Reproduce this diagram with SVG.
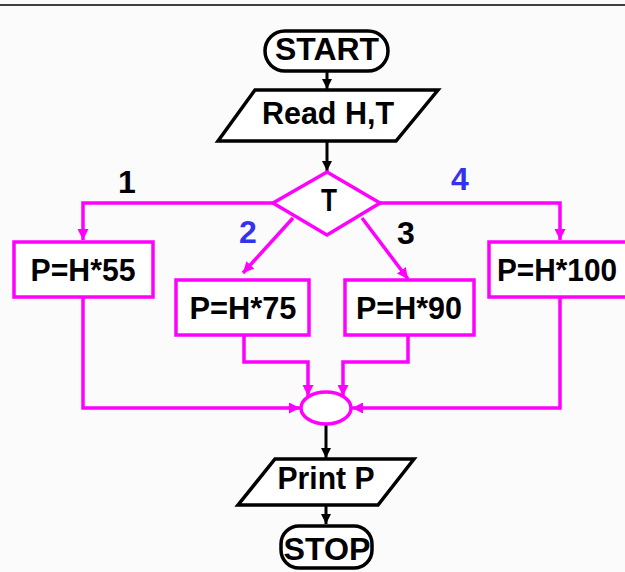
<svg xmlns="http://www.w3.org/2000/svg" width="625" height="572" viewBox="0 0 625 572">
<defs>
<style>
.t{font-family:"Liberation Sans",Arial,sans-serif;font-weight:bold;font-size:32px;text-anchor:middle;fill:#000}
.blk{fill:#fff;stroke:#000;stroke-width:3.5}
.mag{fill:#fff;stroke:#ff00ff;stroke-width:3.5}
.lk{fill:none;stroke:#000;stroke-width:3}
.lm{fill:none;stroke:#ff00ff;stroke-width:3.5}
.blue{fill:#3333ee}
</style>
<marker id="ak" viewBox="0 0 10 10" refX="10" refY="5" markerWidth="10" markerHeight="10" markerUnits="userSpaceOnUse" orient="auto"><path d="M0,0 L10,5 L0,10 Z" fill="#000"/></marker>
<marker id="am" viewBox="0 0 10 10" refX="10" refY="5" markerWidth="11" markerHeight="11" markerUnits="userSpaceOnUse" orient="auto"><path d="M0,0 L10,5 L0,10 Z" fill="#ff00ff"/></marker>
</defs>
<rect x="0" y="0" width="625" height="572" fill="#fbfbfb"/>
<line x1="0" y1="5" x2="625" y2="5" stroke="#000" stroke-width="1.5"/>
<g id="connectors">
<path class="lk" d="M327,72 V89" marker-end="url(#ak)"/>
<path class="lk" d="M327,141 V171" marker-end="url(#ak)"/>
<path class="lm" d="M273,203 H83 V240" marker-end="url(#am)"/>
<path class="lm" d="M380,203 H560 V240" marker-end="url(#am)"/>
<path class="lm" d="M293,218 L243,273" marker-end="url(#am)"/>
<path class="lm" d="M362,218 L408,279" marker-end="url(#am)"/>
<path class="lm" d="M244,335 V362 H308 V396" marker-end="url(#am)"/>
<path class="lm" d="M408,335 V362 H343 V396" marker-end="url(#am)"/>
<path class="lm" d="M83,298 V408 H300" marker-end="url(#am)"/>
<path class="lm" d="M560,298 V408 H352" marker-end="url(#am)"/>
<path class="lk" d="M326,424 V458" marker-end="url(#ak)"/>
<path class="lk" d="M326,505 V524" marker-end="url(#ak)"/>
</g>
<g id="start"><rect class="blk" x="265" y="31" width="123" height="40" rx="20"/><text class="t" x="327" y="60" textLength="104" lengthAdjust="spacingAndGlyphs">START</text></g>
<g id="read"><polygon class="blk" points="255,90 438,90 396,141 218,141"/><text class="t" x="328" y="124" textLength="132" lengthAdjust="spacingAndGlyphs">Read H,T</text></g>
<g id="decision"><polygon class="mag" points="327,172 380,203 327,235 273,203"/><text class="t" x="329" y="211" textLength="16" lengthAdjust="spacingAndGlyphs">T</text></g>
<g id="p55"><rect class="mag" x="14" y="242" width="139" height="55"/><text class="t" x="83" y="281" textLength="105" lengthAdjust="spacingAndGlyphs">P=H*55</text></g>
<g id="p75"><rect class="mag" x="176" y="280" width="133" height="55"/><text class="t" x="243" y="319" textLength="107" lengthAdjust="spacingAndGlyphs">P=H*75</text></g>
<g id="p90"><rect class="mag" x="345" y="280" width="129" height="55"/><text class="t" x="409" y="319" textLength="106" lengthAdjust="spacingAndGlyphs">P=H*90</text></g>
<g id="p100"><rect class="mag" x="489" y="242" width="140" height="55"/><text class="t" x="557" y="281" textLength="120" lengthAdjust="spacingAndGlyphs">P=H*100</text></g>
<g id="join"><ellipse class="mag" cx="326" cy="408" rx="25" ry="16"/></g>
<g id="print"><polygon class="blk" points="275,459 414,459 378,505 238,505"/><text class="t" x="326" y="489" textLength="97" lengthAdjust="spacingAndGlyphs">Print P</text></g>
<g id="stop"><rect class="blk" x="281" y="526" width="91" height="42" rx="18"/><text class="t" x="327" y="560" textLength="87" lengthAdjust="spacingAndGlyphs">STOP</text></g>
<g id="labels">
<text class="t" x="127" y="193">1</text>
<text class="t blue" x="460" y="190">4</text>
<text class="t blue" x="248" y="243">2</text>
<text class="t" x="406" y="244">3</text>
</g>
</svg>
